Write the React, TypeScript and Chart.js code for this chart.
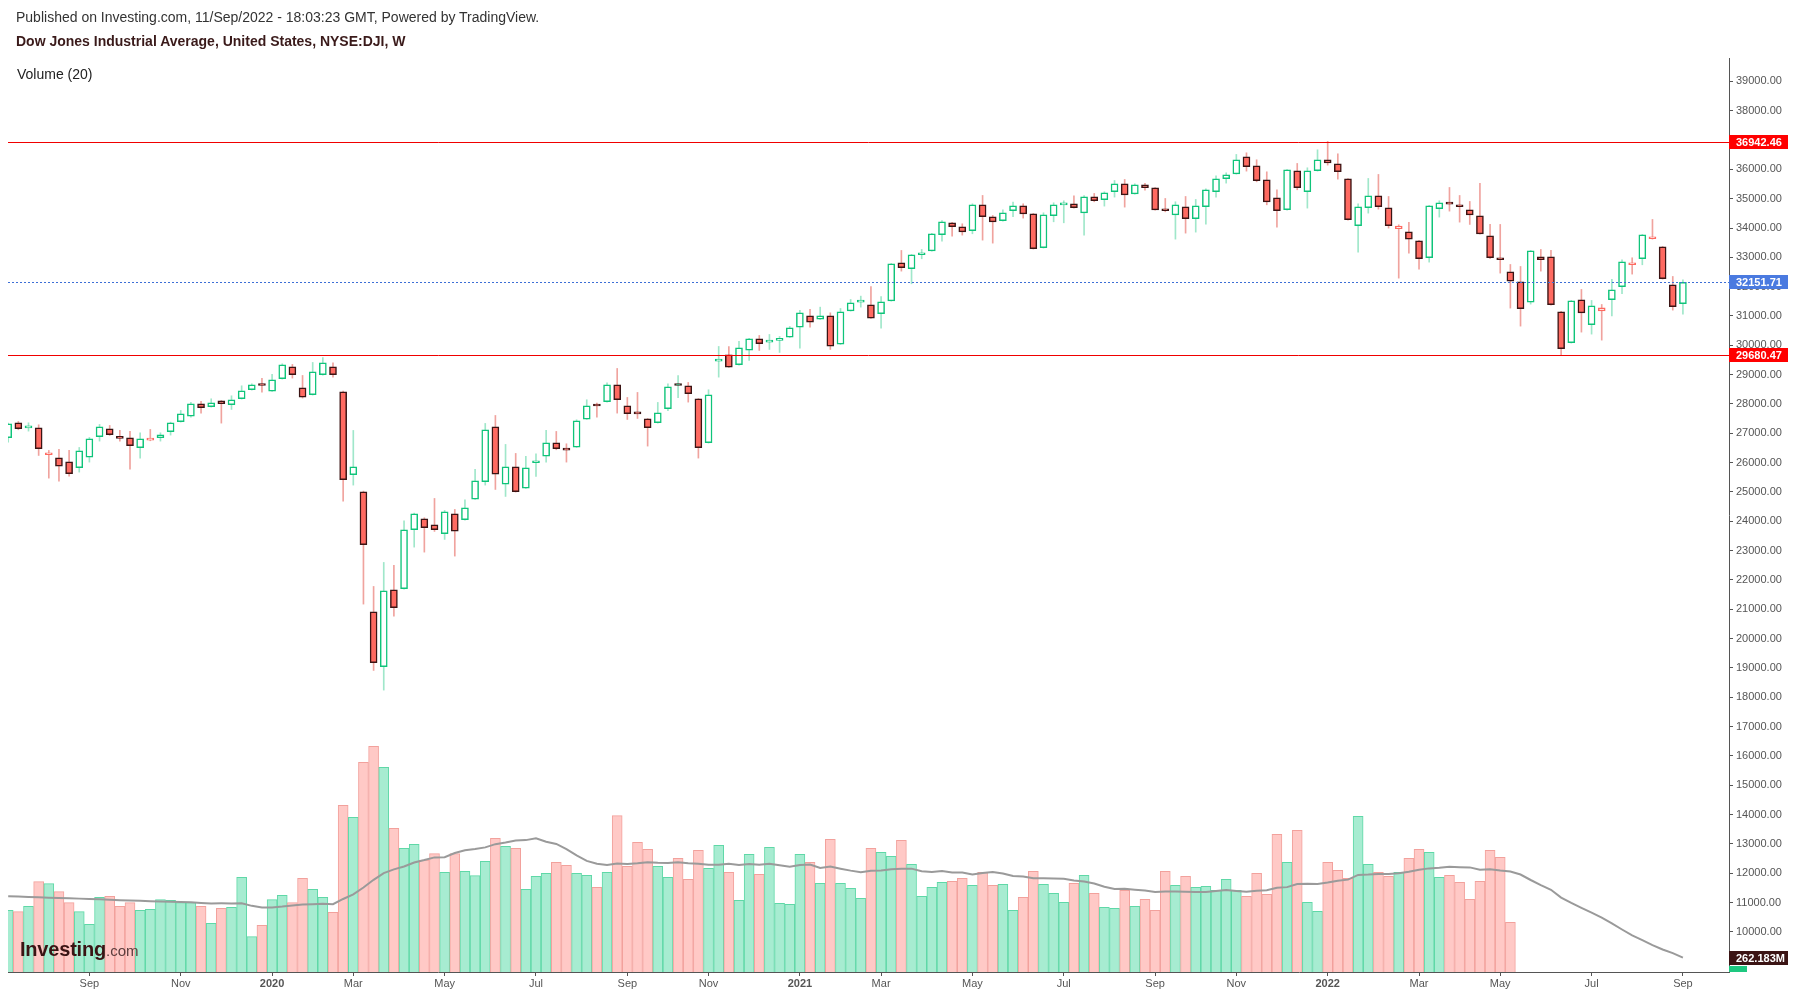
import React, { useEffect, useRef } from 'react';
import { Chart, registerables } from 'chart.js';

Chart.register(...registerables);

// Weekly candles (index 0 = week of 8 Jul 2019, index 165 = week of 5 Sep 2022)
const OPEN = [
  26847, 27358, 27182, 27188, 26267, 26165, 26028, 25824, 26188, 26881,
  27154, 26847, 26847, 26506, 26767, 26847, 27052, 27392, 27586, 28006,
  27904, 28109, 27972, 28177, 28484, 28654, 28438, 28859, 29268, 28552,
  28313, 28995, 29268, 28416, 25585, 25005, 20913, 19038, 21663, 21698,
  23710, 24085, 23880, 23573, 24255, 24051, 24755, 25347, 27222, 25267,
  25858, 25130, 25994, 26222, 26676, 26449, 26529, 27483, 27972, 28075,
  28654, 27938, 27733, 27495, 27358, 27836, 28677, 28620, 28177, 26676,
  29461, 29677, 29336, 29836, 30223, 30109, 30170, 30280, 30620, 31007,
  30893, 31007, 30041, 31177, 31473, 31382, 31075, 31518, 32814, 32610,
  33087, 33223, 33769, 34178, 34042, 33906, 34792, 34383, 34247, 34588,
  34758, 34485, 33326, 34417, 34792, 34826, 34519, 35065, 34963, 35236,
  35508, 35167, 35474, 35372, 34656, 34451, 34724, 34315, 34724, 35236,
  35679, 35849, 36429, 36122, 35645, 35031, 34622, 35952, 35236, 35952,
  36327, 36190, 35679, 34076, 34690, 35099, 34690, 33974, 33871, 33564,
  32985, 34656, 34838, 34792, 34622, 34417, 33735, 32985, 32507, 32166,
  31473, 33019, 33019, 31143, 30086, 31553, 30700, 31177, 31553, 31996,
  32746, 32951, 33633, 33360, 32064, 31416,
];
const HIGH = [
  27350, 27404, 27358, 27290, 26415, 26449, 26415, 26517, 26858, 27302,
  27267, 27097, 27063, 27017, 27131, 27017, 27381, 27779, 28052, 28086,
  28177, 28120, 28279, 28620, 28688, 28870, 29007, 29370, 29348, 28972,
  29416, 29586, 29404, 28438, 27097, 25028, 21777, 22596, 22493, 24016,
  24278, 24119, 24778, 24369, 24403, 24733, 25767, 27336, 27608, 26620,
  26313, 26210, 26301, 27097, 27063, 26642, 27461, 28143, 28029, 28722,
  29211, 28222, 28393, 27506, 28052, 28688, 28972, 28734, 28188, 28484,
  29961, 29961, 30132, 30234, 30336, 30370, 30302, 30643, 31189, 31223,
  31302, 31109, 31257, 31564, 31678, 32007, 31666, 32792, 33235, 33098,
  33269, 33815, 34258, 34190, 34144, 34826, 35111, 34428, 34622, 34883,
  34826, 34497, 34519, 34860, 34929, 35099, 35110, 35179, 35236, 35622,
  35656, 35508, 35520, 35383, 35008, 34895, 35076, 34974, 35338, 35781,
  35883, 36509, 36565, 36327, 35917, 35304, 35997, 36202, 36054, 36668,
  36952, 36531, 35690, 34826, 35690, 35827, 35076, 34110, 34190, 33576,
  34770, 34929, 35383, 35110, 34906, 35520, 34122, 34122, 32757, 32689,
  33235, 33269, 33235, 31155, 31530, 31905, 31530, 31393, 32246, 32917,
  32985, 33781, 34292, 33371, 32348, 32235,
];
const LOW = [
  26699, 27120, 27074, 26244, 25471, 25369, 25540, 25676, 26017, 26733,
  26926, 26733, 25778, 26154, 26745, 26733, 26938, 27381, 27552, 27688,
  27893, 27347, 27813, 28165, 28472, 28404, 28427, 28847, 28882, 28200,
  28302, 28984, 28916, 24687, 25233, 21175, 18913, 18242, 20765, 21686,
  23118, 22948, 23653, 23380, 22812, 24040, 24744, 25233, 25085, 24846,
  24994, 25119, 25528, 26017, 26438, 26017, 26517, 27472, 27552, 28063,
  27688, 27472, 27506, 26563, 27347, 27768, 28211, 28063, 26154, 26665,
  28915, 29245, 29325, 29484, 29825, 29859, 29757, 30268, 29904, 30620,
  30882, 29859, 30030, 31166, 31302, 30916, 30586, 31507, 32530, 32098,
  32951, 33212, 33553, 33724, 33758, 33803, 33587, 33485, 34235, 34383,
  34338, 33281, 33315, 34212, 34178, 34679, 33758, 34895, 34747, 35054,
  34713, 35156, 35292, 34610, 34553, 33621, 33826, 33860, 34133, 35054,
  35531, 35838, 35940, 35576, 34792, 34031, 34610, 35304, 34679, 35940,
  36145, 35667, 34269, 33178, 34508, 34644, 33996, 32291, 33144, 32598,
  32837, 34372, 34576, 34201, 34122, 33792, 32951, 32462, 31268, 30655,
  31405, 32530, 31371, 29654, 30075, 30450, 30382, 30177, 31002, 31757,
  32428, 32746, 33621, 32257, 31200, 31064,
];
const CLOSE = [
  27324, 27154, 27193, 26472, 26290, 25881, 25619, 26404, 26813, 27222,
  26949, 26824, 26574, 26813, 26790, 26949, 27358, 27665, 28006, 27870,
  28040, 28006, 28143, 28450, 28654, 28631, 28825, 29336, 28995, 28234,
  29097, 29404, 28995, 25415, 25858, 23198, 19174, 21629, 21050, 23710,
  24255, 23778, 23710, 24323, 23664, 24460, 25381, 27120, 25608, 25858,
  25005, 25824, 26063, 26676, 26472, 26426, 27426, 27938, 27930, 28654,
  28143, 27665, 27657, 27188, 27699, 28586, 28631, 28347, 26506, 28313,
  29484, 29257, 29916, 30223, 30052, 30180, 30195, 30598, 31109, 30791,
  31007, 29973, 31143, 31450, 31496, 30927, 31484, 32780, 32644, 33087,
  33155, 33803, 34212, 34042, 33871, 34792, 34383, 34212, 34519, 34758,
  34485, 33292, 34451, 34792, 34860, 34690, 35065, 34929, 35201, 35508,
  35133, 35474, 35372, 34621, 34588, 34792, 34315, 34758, 35304, 35679,
  35815, 36327, 36088, 35611, 34894, 34588, 35986, 35372, 35952, 36327,
  36224, 35918, 34281, 34724, 35099, 34724, 34076, 34065, 33621, 32951,
  34758, 34860, 34815, 34724, 34451, 33803, 32985, 32917, 32189, 31246,
  33223, 32917, 31382, 29882, 31518, 31109, 31348, 31280, 31893, 32848,
  32814, 33769, 33701, 32269, 31314, 32152,
];

// Weekly volume in millions (data stops in May 2022)
const VOLUME = [
  1131, 1106, 1204, 1656, 1619, 1473, 1271, 1106, 874, 1369,
  1387, 1204, 1271, 1131, 1149, 1326, 1314, 1271, 1271, 1204,
  892, 1167, 1185, 1735, 648, 855, 1326, 1405, 1271, 1717,
  1515, 1369, 1094, 3055, 2835, 3843, 4137, 3752, 2634, 2267,
  2340, 2053, 2169, 1827, 2169, 1845, 1766, 2029, 2450, 2304,
  2267, 1515, 1754, 1809, 2010, 1955, 1809, 1772, 1552, 1827,
  2866, 1937, 2377, 2249, 1937, 1735, 2084, 1699, 2230, 1901,
  2322, 1827, 1314, 2157, 1790, 2285, 1259, 1240, 2157, 2010,
  1625, 2432, 1625, 1534, 1351, 2267, 2193, 2120, 2413, 1973,
  1387, 1552, 1643, 1662, 1717, 1588, 1827, 1588, 1607, 1131,
  1369, 1845, 1607, 1442, 1277, 1625, 1772, 1442, 1185, 1167,
  1497, 1204, 1332, 1131, 1845, 1588, 1754, 1552, 1570, 1497,
  1699, 1497, 1387, 1809, 1424, 2524, 2010, 2597, 1277, 1112,
  2010, 1864, 1717, 2853, 1973, 1827, 1754, 1827, 2084, 2249,
  2193, 1735, 1772, 1643, 1332, 1662, 2230, 2102, 911,
];
// Volume MA values for the first weeks (window starts before the visible range)
const VOLUME_MA_LEAD = [
  1387, 1382, 1376, 1370, 1362, 1355, 1350, 1345, 1338, 1332,
  1326, 1316, 1310, 1304, 1297, 1292, 1287, 1283, 1278,
];
const MA_PERIOD = 20;

const X_TICK_WEEKS = [8, 17, 26, 34, 43, 52, 61, 69, 78, 86, 95, 104, 113, 121, 130, 139, 147, 156, 165];
const X_TICK_LABELS = ['Sep', 'Nov', '2020', 'Mar', 'May', 'Jul', 'Sep', 'Nov', '2021', 'Mar', 'May', 'Jul', 'Sep', 'Nov', '2022', 'Mar', 'May', 'Jul', 'Sep'];
const Y_TICKS = [
  10000, 11000, 12000, 13000, 14000, 15000, 16000, 17000, 18000, 19000,
  20000, 21000, 22000, 23000, 24000, 25000, 26000, 27000, 28000, 29000,
  30000, 31000, 32000, 33000, 34000, 35000, 36000, 37000, 38000, 39000,
];

const LEVEL_HIGH = 36942.46;
const LEVEL_LOW = 29680.47;
const LAST_PRICE = 32151.71;
const VOL_MA_LABEL = '262.183M';

const TITLE_PUBLISHED = 'Published on Investing.com, 11/Sep/2022 - 18:03:23 GMT, Powered by TradingView.';
const TITLE_MAIN = 'Dow Jones Industrial Average, United States, NYSE:DJI, W';
const VOLUME_TITLE = 'Volume (20)';

const GREEN = '#0fc47a';
const RED = '#ff6a61';
const DARK = '#3b1414';
const WICK_GREEN = '#a0e7ca';
const WICK_RED = '#f0a39e';
const VOL_GREEN_FILL = '#a7ecd1';
const VOL_GREEN_LINE = '#5fd8a7';
const VOL_RED_FILL = '#ffc9c6';
const VOL_RED_LINE = '#f2a19c';
const FONT = '"Liberation Sans", Arial, sans-serif';

export default function App() {
  const canvasRef = useRef<HTMLCanvasElement | null>(null);

  useEffect(() => {
    const canvas = canvasRef.current;
    if (!canvas) return;
    Chart.defaults.font.family = FONT;

    const n = CLOSE.length;
    const up = CLOSE.map((c, i) => c >= (i > 0 ? CLOSE[i - 1] : OPEN[i]));
    const filled = CLOSE.map((c, i) => c < OPEN[i]);
    const bodyFill = CLOSE.map((_, i) => (filled[i] ? (up[i] ? GREEN : RED) : '#ffffff'));
    const bodyLine = CLOSE.map((_, i) => (filled[i] ? DARK : up[i] ? GREEN : RED));
    const wickCol = CLOSE.map((_, i) => (up[i] ? WICK_GREEN : WICK_RED));
    const volUp = VOLUME.map((_, i) => CLOSE[i] >= OPEN[i]);

    const ma: { x: number; y: number }[] = [];
    for (let i = 0; i < n; i++) {
      if (i < VOLUME_MA_LEAD.length) {
        ma.push({ x: i, y: VOLUME_MA_LEAD[i] });
      } else {
        let s = 0;
        for (let j = i - MA_PERIOD + 1; j <= i; j++) s += j < VOLUME.length ? VOLUME[j] : 0;
        ma.push({ x: i, y: s / MA_PERIOD });
      }
    }

    const overlay = {
      id: 'overlay',
      afterDatasetsDraw(chart: any) {
        const { ctx, chartArea: a, scales } = chart;
        const y = scales.y;
        ctx.save();
        ctx.beginPath();
        ctx.rect(a.left, a.top, a.right - a.left, a.bottom - a.top);
        ctx.clip();
        ctx.lineWidth = 1;
        ctx.strokeStyle = '#f00000';
        [LEVEL_HIGH, LEVEL_LOW].forEach((v) => {
          const py = Math.round(y.getPixelForValue(v)) + 0.5;
          ctx.beginPath();
          ctx.moveTo(a.left, py);
          ctx.lineTo(a.right, py);
          ctx.stroke();
        });
        ctx.strokeStyle = '#3d6fd6';
        ctx.setLineDash([2, 2]);
        const pb = Math.round(y.getPixelForValue(LAST_PRICE)) + 0.5;
        ctx.beginPath();
        ctx.moveTo(a.left, pb);
        ctx.lineTo(a.right, pb);
        ctx.stroke();
        ctx.restore();
      },
      afterDraw(chart: any) {
        const { ctx, chartArea: a, scales } = chart;
        const y = scales.y;
        const yv = scales.yVol;
        const box = (py: number, text: string, bg: string) => {
          ctx.fillStyle = bg;
          ctx.fillRect(a.right, Math.round(py) - 7, 59, 14);
          ctx.fillStyle = '#ffffff';
          ctx.font = `bold 11px ${FONT}`;
          ctx.textBaseline = 'middle';
          ctx.textAlign = 'left';
          ctx.fillText(text, a.right + 7, Math.round(py) + 0.5);
        };
        ctx.save();
        box(y.getPixelForValue(LEVEL_HIGH), LEVEL_HIGH.toFixed(2), '#ff0000');
        box(y.getPixelForValue(LAST_PRICE), LAST_PRICE.toFixed(2), '#4a7ae0');
        box(y.getPixelForValue(LEVEL_LOW), LEVEL_LOW.toFixed(2), '#ff0000');
        box(yv.getPixelForValue(ma[ma.length - 1].y), VOL_MA_LABEL, DARK);
        ctx.fillStyle = '#1ec880';
        ctx.fillRect(a.right, a.bottom - 6, 18, 6);
        ctx.restore();
      },
    };

    const chart = new Chart(canvas, {
      type: 'bar',
      data: {
        datasets: [
          {
            type: 'bar',
            label: 'body',
            data: CLOSE.map((c, i) => ({ x: i, y: [OPEN[i], c] })) as any,
            backgroundColor: bodyFill,
            borderColor: bodyLine,
            borderWidth: 1.5,
            borderSkipped: false,
            barThickness: 7,
            minBarLength: 2,
            grouped: false,
            order: 0,
            yAxisID: 'y',
          },
          {
            type: 'bar',
            label: 'wick',
            data: CLOSE.map((_, i) => ({ x: i, y: [LOW[i], HIGH[i]] })) as any,
            backgroundColor: wickCol,
            borderWidth: 0,
            barThickness: 1,
            grouped: false,
            order: 1,
            yAxisID: 'y',
          },
          {
            type: 'line',
            label: 'volMA',
            data: ma as any,
            borderColor: '#9a9a9a',
            borderWidth: 2,
            pointRadius: 0,
            tension: 0,
            order: 2,
            yAxisID: 'yVol',
          },
          {
            type: 'bar',
            label: 'volume',
            data: VOLUME.map((v, i) => ({ x: i, y: v })) as any,
            backgroundColor: volUp.map((u) => (u ? VOL_GREEN_FILL : VOL_RED_FILL)),
            borderColor: volUp.map((u) => (u ? VOL_GREEN_LINE : VOL_RED_LINE)),
            borderWidth: 1,
            barThickness: 10,
            grouped: false,
            order: 3,
            yAxisID: 'yVol',
          },
        ],
      },
      options: {
        responsive: false,
        animation: false,
        devicePixelRatio: 1,
        layout: { padding: { left: 8, top: 58, right: 0, bottom: 0 } },
        plugins: { legend: { display: false }, tooltip: { enabled: false } },
        scales: {
          x: {
            type: 'linear',
            min: -0.02,
            max: 169.54,
            offset: false,
            afterBuildTicks: (s: any) => {
              s.ticks = X_TICK_WEEKS.map((v) => ({ value: v }));
            },
            afterFit: (s: any) => {
              s.height = 24;
            },
            ticks: {
              autoSkip: false,
              maxRotation: 0,
              padding: 1,
              color: '#555555',
              callback: (_v: any, idx: number) => X_TICK_LABELS[idx],
              font: (ctx: any) => ({
                size: 11,
                family: FONT,
                weight: /^\d{4}$/.test(X_TICK_LABELS[ctx.index] || '') ? 'bold' : 'normal',
              }),
            },
            grid: { drawOnChartArea: false, offset: false, tickLength: 4, color: '#555555' },
            border: { color: '#555555', width: 1 },
          },
          y: {
            type: 'linear',
            position: 'right',
            min: 8629,
            max: 39798,
            afterBuildTicks: (s: any) => {
              s.ticks = Y_TICKS.map((v) => ({ value: v }));
            },
            afterFit: (s: any) => {
              s.width = 67;
            },
            ticks: {
              padding: 3,
              color: '#555555',
              font: { size: 11, family: FONT },
              callback: (v: any) => Number(v).toFixed(2),
            },
            grid: { drawOnChartArea: false, tickLength: 4, color: '#555555' },
            border: { color: '#555555', width: 1 },
          },
          yVol: {
            type: 'linear',
            display: false,
            min: 0,
            max: 16754,
          },
        },
      } as any,
      plugins: [overlay],
    });

    return () => {
      chart.destroy();
    };
  }, []);

  return (
    <div
      style={{
        position: 'absolute',
        left: 0,
        top: 0,
        width: 1796,
        height: 996,
        background: '#ffffff',
        fontFamily: FONT,
        overflow: 'hidden',
      }}
    >
      <canvas
        ref={canvasRef}
        width={1796}
        height={996}
        style={{ position: 'absolute', left: 0, top: 0, width: 1796, height: 996 }}
      />
      <div style={{ position: 'absolute', left: 16, top: 9, fontSize: 14, lineHeight: '16px', color: '#333333', whiteSpace: 'nowrap' }}>
        {TITLE_PUBLISHED}
      </div>
      <div style={{ position: 'absolute', left: 16, top: 33, fontSize: 14, lineHeight: '16px', fontWeight: 'bold', color: '#3a1a1a', whiteSpace: 'nowrap' }}>
        {TITLE_MAIN}
      </div>
      <div style={{ position: 'absolute', left: 17, top: 66, fontSize: 14, lineHeight: '16px', color: '#222222', whiteSpace: 'nowrap' }}>
        {VOLUME_TITLE}
      </div>
      <div style={{ position: 'absolute', left: 20, top: 939, lineHeight: '20px', whiteSpace: 'nowrap', color: '#3a1414' }}>
        <span style={{ fontSize: 20, fontWeight: 'bold', letterSpacing: '-0.2px' }}>Investing</span>
        <span style={{ fontSize: 15, color: '#5b3d3d' }}>.com</span>
      </div>
    </div>
  );
}
